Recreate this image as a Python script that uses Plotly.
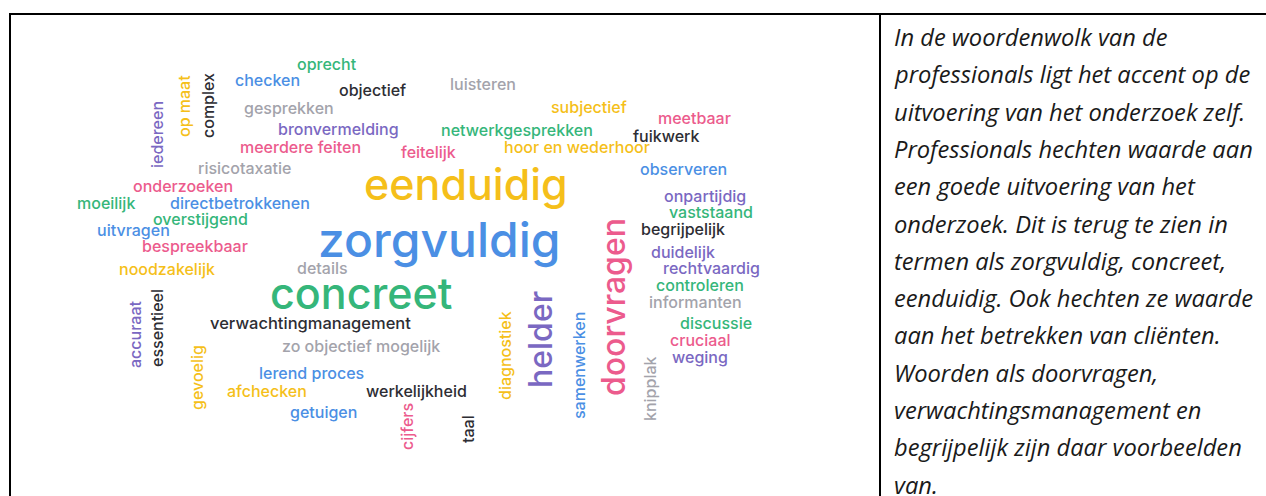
import plotly.graph_objects as go

# ---- word cloud data ----
words = ["zorgvuldig", "eenduidig", "concreet", "doorvragen", "helder",
         "oprecht", "checken", "objectief", "luisteren", "gesprekken", "subjectief",
         "meetbaar", "bronvermelding", "netwerkgesprekken", "fuikwerk", "meerdere feiten",
         "feitelijk", "hoor en wederhoor", "risicotaxatie", "observeren", "onderzoeken",
         "onpartijdig", "moeilijk", "directbetrokkenen", "vaststaand", "overstijgend",
         "uitvragen", "begrijpelijk", "bespreekbaar", "duidelijk", "noodzakelijk",
         "details", "rechtvaardig", "controleren", "informanten", "verwachtingmanagement",
         "discussie", "cruciaal", "zo objectief mogelijk", "weging", "lerend proces",
         "afchecken", "werkelijkheid", "getuigen",
         "iedereen", "op maat", "complex", "accuraat", "essentieel", "gevoelig",
         "diagnostiek", "samenwerken", "knipplak", "cijfers", "taal"]
weights = [48, 43, 43, 32, 32,
           16, 16, 16, 16, 16, 16,
           16, 16, 16, 16, 16,
           16, 16, 16, 16, 16,
           16, 16, 16, 16, 16,
           16, 16, 16, 16, 16,
           16, 16, 16, 16, 16.5,
           16, 16, 16, 16, 16,
           16, 16, 16,
           16, 16, 16, 16, 16, 16,
           16, 16, 16, 16, 16]
groups = ["blue", "yellow", "green", "pink", "purple",
          "green", "blue", "dark", "gray", "gray", "yellow",
          "pink", "purple", "green", "dark", "pink",
          "pink", "yellow", "gray", "blue", "pink",
          "purple", "green", "blue", "green", "green",
          "blue", "dark", "pink", "purple", "yellow",
          "gray", "purple", "green", "gray", "dark",
          "green", "pink", "gray", "purple", "blue",
          "yellow", "dark", "blue",
          "purple", "yellow", "dark", "purple", "dark", "yellow",
          "yellow", "blue", "gray", "pink", "dark"]
vertical = [False, False, False, True, True] + [False] * 39 + [True] * 11

# layout of the cloud (word centres)
pos_x = [439, 466, 361, 613, 540,
         327, 267, 372, 483, 289, 589,
         694, 338, 517, 666, 300,
         428, 577, 244, 683, 183,
         705, 106, 240, 711, 200,
         133, 683, 195, 683, 167,
         322, 711, 700, 695, 310,
         716, 700, 361, 700, 311,
         267, 416, 323,
         157, 184, 208, 135, 157, 197,
         505, 579, 650, 407, 468]
pos_y = [239, 184, 293, 307, 340,
         64, 80, 90, 84, 108, 107,
         118, 129, 130, 136, 147,
         152, 147, 168, 169, 186,
         196, 203, 203, 212, 219,
         230, 229, 246, 252, 269,
         268, 268, 285, 302, 323,
         323, 340, 346, 357, 373,
         391, 391, 412,
         135, 106, 106, 335, 328, 378,
         356, 366, 389, 427, 429]

palette = {"green": "#35b67a", "blue": "#4b8fe4", "yellow": "#f5bf1a",
           "pink": "#ec5b8d", "purple": "#7a68c2", "gray": "#a3a3ab",
           "dark": "#2d2d33"}

# ---- side text ----
side_lines = ["In de woordenwolk van de",
              "professionals ligt het accent op de",
              "uitvoering van het onderzoek zelf.",
              "Professionals hechten waarde aan",
              "een goede uitvoering van het",
              "onderzoek. Dit is terug te zien in",
              "termen als zorgvuldig, concreet,",
              "eenduidig. Ook hechten ze waarde",
              "aan het betrekken van cliënten.",
              "Woorden als doorvragen,",
              "verwachtingsmanagement en",
              "begrijpelijk zijn daar voorbeelden",
              "van."]

W, H = 1266, 496
fig = go.Figure()
fig.add_trace(go.Scatter(x=[0, W], y=[0, H], mode="markers",
                         marker=dict(opacity=0), hoverinfo="skip", showlegend=False))

annotations = []
for w, s, g, v, x, y in zip(words, weights, groups, vertical, pos_x, pos_y):
    annotations.append(dict(
        x=x, y=y, xref="x", yref="y", text=w, showarrow=False,
        xanchor="center", yanchor="middle", textangle=-90 if v else 0,
        font=dict(family="Inter, Lato, sans-serif", size=s, color=palette[g], weight=500)))

line_top, line_gap = 37, 37.3
for i, t in enumerate(side_lines):
    annotations.append(dict(
        x=892, y=line_top + i * line_gap, xref="x", yref="y", text=t, showarrow=False,
        xanchor="left", yanchor="middle",
        font=dict(family="Open Sans", size=23.7, color="#1a1a1a", style="italic")))

shapes = [
    dict(type="line", xref="x", yref="y", x0=9, x1=W, y0=14, y1=14, line=dict(color="black", width=2)),
    dict(type="line", xref="x", yref="y", x0=10, x1=10, y0=13, y1=H, line=dict(color="black", width=2)),
    dict(type="line", xref="x", yref="y", x0=880, x1=880, y0=13, y1=H, line=dict(color="black", width=2)),
]

fig.update_layout(
    width=W, height=H, margin=dict(l=0, r=0, t=0, b=0, pad=0, autoexpand=False),
    paper_bgcolor="white", plot_bgcolor="white",
    xaxis=dict(range=[0, W], visible=False, fixedrange=True),
    yaxis=dict(range=[H, 0], visible=False, fixedrange=True),
    annotations=annotations, shapes=shapes, showlegend=False,
)
fig.write_html("out.html", config={"displayModeBar": False},
               post_script="document.body.style.margin='0';document.body.style.overflow='hidden';")
